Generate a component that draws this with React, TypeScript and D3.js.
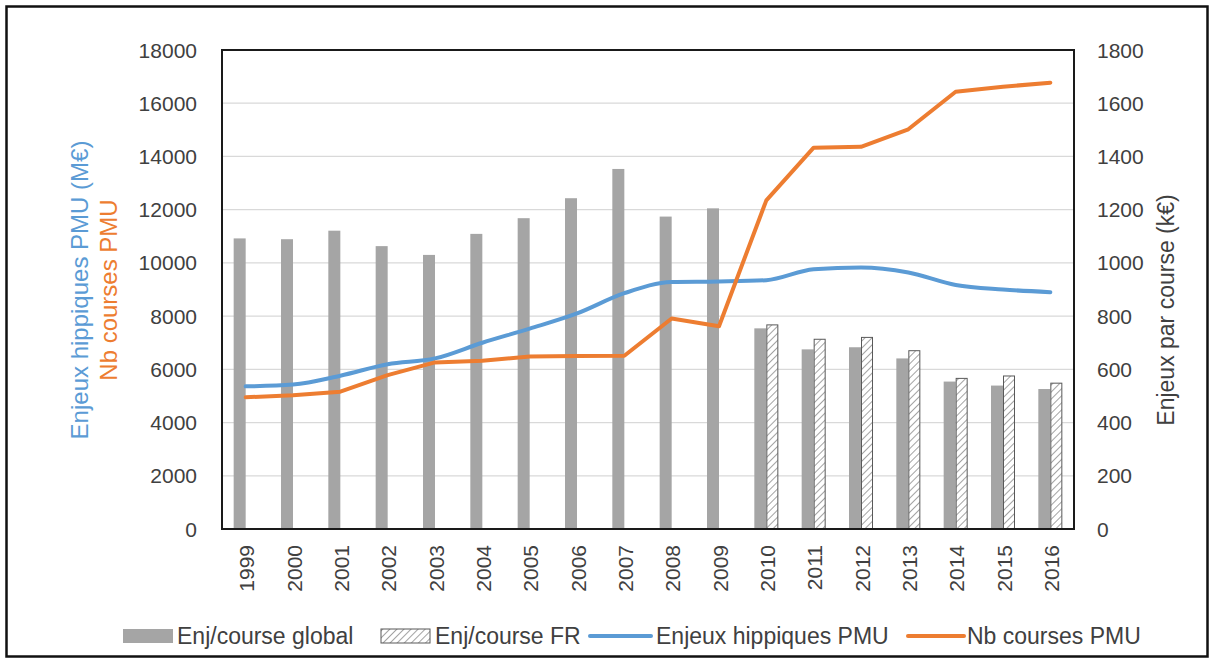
import React from 'react';
import * as d3 from 'd3';

const years = ['1999', '2000', '2001', '2002', '2003', '2004', '2005', '2006', '2007', '2008', '2009', '2010', '2011', '2012', '2013', '2014', '2015', '2016'];
// Enjeux par course (k€) - right axis
const enjCourseGlobal = [1092, 1089, 1121, 1063, 1030, 1109, 1168, 1243, 1353, 1174, 1205, 754, 675, 683, 641, 554, 539, 526];
const enjCourseFR = [null, null, null, null, null, null, null, null, null, null, null, 767, 713, 720, 670, 566, 575, 548];
// left axis
const enjeuxPMU = [5360, 5430, 5760, 6190, 6410, 7000, 7530, 8100, 8860, 9280, 9300, 9350, 9760, 9830, 9640, 9170, 9000, 8900];
const nbCourses = [4950, 5030, 5160, 5780, 6260, 6320, 6480, 6500, 6510, 7910, 7620, 12350, 14330, 14360, 15020, 16430, 16620, 16770];
const leftTicks = [0, 2000, 4000, 6000, 8000, 10000, 12000, 14000, 16000, 18000];
const rightTicks = [0, 200, 400, 600, 800, 1000, 1200, 1400, 1600, 1800];

const W = 1214;
const H = 662;
const plot = { left: 222, right: 1074, top: 50, bottom: 529 };
const font = '"Liberation Sans", Arial, sans-serif';
const textColor = '#404040';
const blue = '#5B9BD5';
const orange = '#ED7D31';
const gray = '#A5A5A5';

export default function App() {
  const x = d3.scaleBand().domain(years).range([plot.left, plot.right]);
  const yL = d3.scaleLinear().domain([0, 18000]).range([plot.bottom, plot.top]);
  const yR = d3.scaleLinear().domain([0, 1800]).range([plot.bottom, plot.top]);
  const barW = 12;
  const cx = (y: string) => (x(y) as number) + x.bandwidth() / 2;

  const blueLine = d3.line<number>()
    .x((_, i) => cx(years[i]))
    .y((d) => yL(d))
    .curve(d3.curveMonotoneX);
  const orangeLine = d3.line<number>()
    .x((_, i) => cx(years[i]))
    .y((d) => yL(d));

  const legendY = 636;

  return (
    <svg width={W} height={H} style={{ position: 'absolute', left: 0, top: 0, background: '#fff' }} fontFamily={font}>
      <defs>
        <pattern id="hatch" width="5" height="5" patternUnits="userSpaceOnUse" patternTransform="rotate(45)">
          <rect width="5" height="5" fill="#fff" />
          <line x1="0" y1="0" x2="0" y2="5" stroke="#8c8c8c" strokeWidth="1.6" />
        </pattern>
      </defs>
      <rect x={0} y={0} width={W} height={H} fill="#fff" />
      <rect x={6.5} y={6.5} width={1201} height={650} fill="none" stroke="#111" strokeWidth={2.5} />

      {/* grid */}
      {leftTicks.map((t) => (
        <line key={'g' + t} x1={plot.left} x2={plot.right} y1={yL(t)} y2={yL(t)} stroke="#d9d9d9" strokeWidth={1.2} />
      ))}

      {/* bars */}
      {enjCourseGlobal.map((v, i) => (
        <rect key={'b' + i} x={cx(years[i]) - barW} y={yR(v)} width={barW} height={plot.bottom - yR(v)} fill={gray} />
      ))}
      {enjCourseFR.map((v, i) => v == null ? null : (
        <rect key={'h' + i} x={cx(years[i]) + 0.5} y={yR(v)} width={barW - 1} height={plot.bottom - yR(v)} fill="url(#hatch)" stroke="#595959" strokeWidth={1} />
      ))}

      {/* lines */}
      <path d={blueLine(enjeuxPMU) || ''} fill="none" stroke={blue} strokeWidth={4} strokeLinejoin="round" strokeLinecap="round" />
      <path d={orangeLine(nbCourses) || ''} fill="none" stroke={orange} strokeWidth={4} strokeLinejoin="round" strokeLinecap="round" />

      {/* frame */}
      <rect x={plot.left} y={plot.top} width={plot.right - plot.left} height={plot.bottom - plot.top} fill="none" stroke="#1a1a1a" strokeWidth={2} />

      {/* left ticks */}
      {leftTicks.map((t) => (
        <text key={'l' + t} x={197} y={yL(t)} textAnchor="end" dominantBaseline="central" fontSize={21} fill={textColor}>{t}</text>
      ))}
      {/* right ticks */}
      {rightTicks.map((t) => (
        <text key={'r' + t} x={1097} y={yR(t)} textAnchor="start" dominantBaseline="central" fontSize={21} fill={textColor}>{t}</text>
      ))}
      {/* x labels */}
      {years.map((yr) => (
        <text key={'x' + yr} transform={`translate(${cx(yr) + 1},${plot.bottom + 16}) rotate(-90)`} textAnchor="end" dominantBaseline="central" fontSize={21} fill={textColor}>{yr}</text>
      ))}

      {/* axis titles */}
      <text transform="translate(79,290) rotate(-90)" textAnchor="middle" dominantBaseline="central" fontSize={24} fill={blue}>Enjeux hippiques PMU (M€)</text>
      <text transform="translate(108,290) rotate(-90)" textAnchor="middle" dominantBaseline="central" fontSize={24} fill={orange}>Nb courses PMU</text>
      <text transform="translate(1166,310) rotate(-90)" textAnchor="middle" dominantBaseline="central" fontSize={23} fill={textColor}>Enjeux par course (k€)</text>

      {/* legend */}
      <rect x={123} y={legendY - 7} width={50} height={14} fill={gray} />
      <text x={177} y={legendY} dominantBaseline="central" fontSize={23} fill={textColor}>Enj/course global</text>
      <rect x={381} y={legendY - 7} width={49} height={14} fill="url(#hatch)" stroke="#595959" strokeWidth={1} />
      <text x={435} y={legendY} dominantBaseline="central" fontSize={23} fill={textColor}>Enj/course FR</text>
      <line x1={590} x2={651} y1={legendY} y2={legendY} stroke={blue} strokeWidth={4} strokeLinecap="round" />
      <text x={656} y={legendY} dominantBaseline="central" fontSize={23} fill={textColor}>Enjeux hippiques PMU</text>
      <line x1={908} x2={964} y1={legendY} y2={legendY} stroke={orange} strokeWidth={4} strokeLinecap="round" />
      <text x={967} y={legendY} dominantBaseline="central" fontSize={23} fill={textColor}>Nb courses PMU</text>
    </svg>
  );
}
